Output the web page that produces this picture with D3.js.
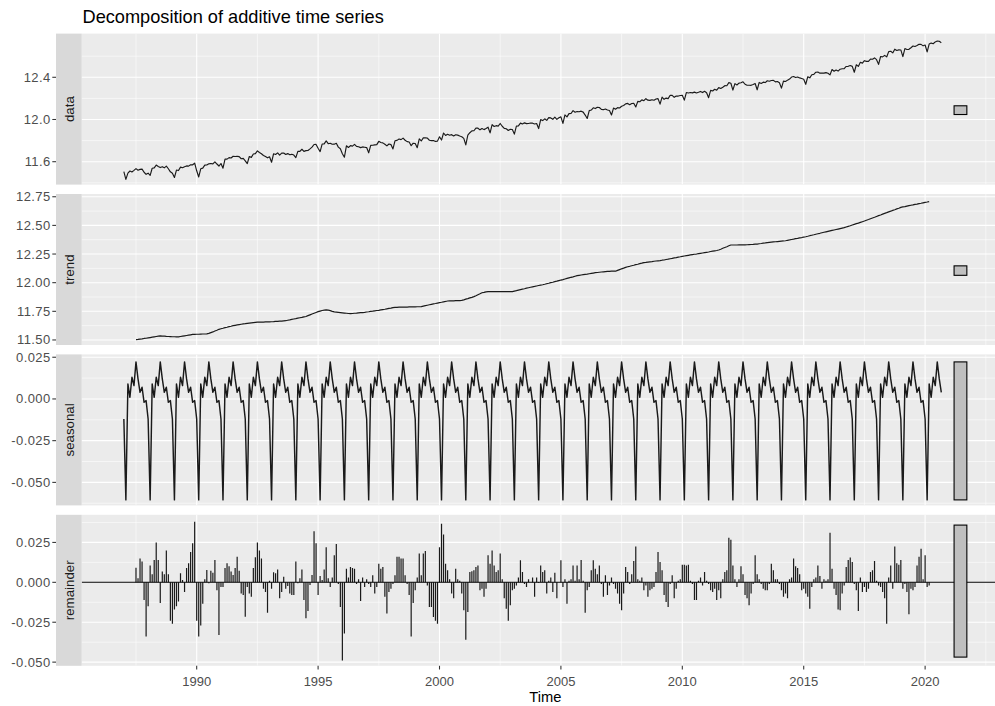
<!DOCTYPE html>
<html><head><meta charset="utf-8">
<script src="https://cdn.jsdelivr.net/npm/d3@7"></script>
<style>body{margin:0;background:#fff}svg{display:block}</style>
</head><body>
<svg id="chart" width="995" height="706"></svg>
<script>
// ---- data ----
const startYear = 1987, frequency = 12;           // monthly series, Jan 1987 .. Sep 2020
const panelNames = ["data", "trend", "seasonal", "remainder"];
// seasonal figure Jan..Dec
const seasonalFigure = [-0.012, -0.0605, 0.009, 0.001, 0.013, 0.008, 0.0222, 0.012, 0.004, 0.007, -0.002, -0.001];
// observed data where trend is undefined (first / last 6 months)
const dataHead = [11.505, 11.433, 11.492, 11.512, 11.503, 11.518];
const dataTail = [12.724, 12.718, 12.735, 12.744, 12.741, 12.728];
// trend, Jul 1987 .. Mar 2020
const trendValues = [
11.503,11.505,11.508,11.510,11.513,11.515,11.518,11.521,11.524,11.527,11.530,11.533,
11.535,11.534,11.533,11.531,11.530,11.529,11.528,11.528,11.527,11.527,11.530,11.533,
11.536,11.539,11.542,11.545,11.548,11.549,11.550,11.550,11.551,11.552,11.552,11.553,
11.558,11.564,11.570,11.578,11.585,11.593,11.598,11.602,11.607,11.611,11.616,11.620,
11.625,11.628,11.631,11.634,11.637,11.640,11.642,11.645,11.647,11.649,11.651,11.653,
11.655,11.655,11.656,11.656,11.657,11.657,11.658,11.659,11.660,11.662,11.663,11.664,
11.665,11.667,11.668,11.672,11.675,11.679,11.683,11.686,11.690,11.694,11.697,11.701,
11.705,11.712,11.719,11.726,11.733,11.740,11.747,11.752,11.757,11.760,11.762,11.760,
11.756,11.750,11.745,11.743,11.741,11.739,11.737,11.735,11.733,11.731,11.730,11.731,
11.733,11.734,11.736,11.738,11.739,11.741,11.744,11.746,11.749,11.751,11.754,11.757,
11.759,11.762,11.765,11.768,11.772,11.775,11.778,11.782,11.785,11.785,11.786,11.786,
11.786,11.787,11.787,11.788,11.788,11.789,11.789,11.790,11.790,11.791,11.795,11.799,
11.803,11.807,11.811,11.815,11.818,11.822,11.826,11.829,11.833,11.836,11.840,11.841,
11.841,11.842,11.843,11.843,11.844,11.845,11.850,11.856,11.861,11.867,11.872,11.878,
11.886,11.895,11.903,11.912,11.915,11.919,11.922,11.922,11.922,11.922,11.922,11.922,
11.922,11.922,11.922,11.922,11.922,11.922,11.922,11.926,11.930,11.935,11.939,11.943,
11.947,11.952,11.956,11.960,11.964,11.967,11.971,11.975,11.979,11.982,11.986,11.991,
11.995,12.000,12.004,12.009,12.013,12.018,12.023,12.027,12.032,12.037,12.042,12.047,
12.051,12.056,12.061,12.064,12.067,12.070,12.073,12.075,12.078,12.081,12.084,12.087,
12.089,12.091,12.093,12.095,12.097,12.099,12.099,12.100,12.100,12.100,12.107,12.114,
12.121,12.127,12.134,12.139,12.143,12.148,12.152,12.157,12.161,12.166,12.170,12.175,
12.177,12.180,12.182,12.184,12.187,12.189,12.191,12.193,12.196,12.198,12.202,12.205,
12.209,12.212,12.216,12.219,12.223,12.226,12.230,12.233,12.236,12.239,12.242,12.245,
12.248,12.250,12.253,12.256,12.259,12.262,12.265,12.268,12.272,12.275,12.278,12.281,
12.285,12.292,12.300,12.307,12.314,12.322,12.329,12.329,12.329,12.329,12.330,12.330,
12.330,12.330,12.331,12.332,12.333,12.334,12.336,12.337,12.340,12.342,12.345,12.347,
12.350,12.352,12.354,12.356,12.357,12.359,12.361,12.363,12.364,12.366,12.370,12.373,
12.377,12.380,12.384,12.387,12.391,12.394,12.398,12.401,12.405,12.410,12.414,12.418,
12.423,12.427,12.431,12.436,12.440,12.444,12.448,12.452,12.456,12.460,12.464,12.468,
12.472,12.476,12.480,12.486,12.492,12.497,12.503,12.509,12.515,12.520,12.526,12.532,
12.538,12.545,12.551,12.558,12.565,12.571,12.578,12.585,12.591,12.598,12.605,12.611,
12.618,12.624,12.631,12.637,12.644,12.650,12.657,12.661,12.664,12.668,12.672,12.676,
12.679,12.683,12.686,12.690,12.693,12.697,12.701,12.704,12.708];
// remainder, Jul 1987 .. Mar 2020
const remainderValues = [
0.0092,0.0025,0.015,0.013,-0.011,-0.034,-0.015,0.0105,0.005,0.014,0.025,0.014,
-0.013,0.0067,0.005,0.020,0.005,-0.024,-0.026,-0.017,-0.015,-0.012,0.0057,0.0015,
-0.006,0.009,0.012,0.019,0.0245,0.038,-0.024,-0.034,-0.027,-0.0135,0.002,0.0077,
-0.0006,0.0073,0.006,0.014,-0.005,-0.033,-0.003,-0.003,0.009,0.012,0.010,0.0067,
0.0046,0.009,0.016,0.0073,-0.007,-0.008,-0.0215,-0.003,-0.007,-0.009,0.009,0.0157,
0.025,0.020,0.015,-0.004,-0.006,-0.019,0.001,-0.004,0.0063,0.0057,0.008,-0.010,
-0.006,0.0035,-0.004,-0.0023,-0.007,-0.008,-0.008,0.013,-0.0006,0.0025,0.008,-0.011,
-0.0225,-0.018,-0.0017,0.0046,0.032,0.0245,-0.008,0.004,0.0015,0.008,0.022,0.0025,
-0.003,0.003,0.017,0.024,-0.001,-0.0155,-0.049,-0.032,0.0085,0.003,0.0096,0.009,
0.0085,-0.001,0.002,-0.0117,0.003,-0.003,0.002,-0.001,-0.003,0.0044,-0.007,-0.003,
0.0117,0.0085,0.0096,-0.009,-0.0196,-0.006,-0.004,-0.001,0.0044,0.016,0.016,0.015,
0.015,0.0044,-0.001,-0.008,-0.034,-0.013,-0.005,0.003,0.018,0.0044,0.018,0.0196,
-0.002,-0.0155,-0.0155,-0.0217,-0.024,-0.026,0.022,0.0367,0.030,0.0117,0.0075,0.002,
-0.007,-0.010,0.0085,0.002,0.001,-0.007,-0.0175,-0.036,-0.0186,0.0065,0.007,0.0075,
0.0096,0.0106,-0.005,-0.004,-0.009,-0.004,0.017,0.0117,0.020,0.0106,0.0065,0.0075,
0.018,0.002,-0.010,-0.0165,-0.024,-0.0144,-0.005,-0.004,-0.002,0.003,0.0138,0.0065,
-0.001,-0.003,0.002,0,0.003,-0.009,0.003,-0.0004,0.0106,0.0065,0.0075,-0.007,
0.001,0.003,-0.006,0.006,-0.010,0,0.0138,-0.003,0.002,-0.0134,0.001,0.002,
0.0106,0.001,0.0106,0.002,0.014,0.001,-0.019,-0.005,-0.003,0.0075,0.0138,0.0085,
0.005,0.0106,-0.001,-0.009,
0.0044,-0.008,-0.002,0.003,-0.001,-0.004,-0.007,-0.0134,-0.0175,-0.007,0.0096,0.0065,
-0.001,0.005,0.0134,0.0225,0.002,0.001,0.003,-0.005,-0.002,-0.009,-0.005,-0.004,
-0.003,0.0065,0.019,0.0127,0.0075,-0.008,-0.0123,-0.0155,-0.001,0.0044,-0.010,-0.004,
0.001,0.002,0.011,0.011,0.0106,0.011,0.001,-0.001,-0.011,-0.011,0.001,0.003,
-0.002,0.0065,0.001,-0.001,-0.005,-0.006,-0.004,-0.011,-0.005,-0.010,0.002,0.0065,
0.0075,0.028,0.0267,0.0106,0.002,-0.003,0.002,0.010,0.005,-0.008,-0.010,-0.0144,
-0.007,-0.001,0.017,0.005,0.002,-0.001,-0.004,-0.005,-0.005,
-0.001,0.0117,0.0075,0.002,0.002,-0.001,-0.005,-0.009,-0.007,-0.010,0.002,0.003,
0.015,0.010,0.009,0.005,-0.005,-0.004,-0.007,-0.009,-0.0165,-0.003,0.002,0.003,
0.0106,0.004,-0.004,0.002,0.001,0.002,0.031,0.0085,-0.004,-0.008,-0.017,-0.0175,
-0.007,-0.002,0.0096,0.014,0.0155,0.0127,-0.001,-0.005,-0.018,0.003,-0.006,-0.003,
-0.006,-0.004,0.0065,0.0075,0.0134,0.001,-0.002,-0.003,-0.006,-0.010,-0.026,0.003,
0.0106,-0.004,0.0225,0.012,0.011,0.014,-0.004,-0.001,-0.006,-0.020,-0.004,-0.005,
-0.003,0.0106,0.016,0.021,0.002,0.017,-0.003,-0.002];
const xTickLabels = [1990, 1995, 2000, 2005, 2010, 2015, 2020];
const dataTicks = [11.6, 12.0, 12.4];
const trendTicks = [11.50, 11.75, 12.00, 12.25, 12.50, 12.75];
const seasonalTicks = [-0.050, -0.025, 0.000, 0.025];
const remainderTicks = [-0.050, -0.025, 0.000, 0.025];
// y ranges of each facet
const dataDomain = [11.383, 12.814];
const trendDomain = [11.456, 12.774];
const seasonalDomain = [-0.0638, 0.0267];
const remainderDomain = [-0.0523, 0.0423];

// ---- build the decomposition table ----
const n = dataHead.length + trendValues.length + dataTail.length;
const half = dataHead.length;
const rows = d3.range(n).map(i => {
  const t = startYear + i / frequency;
  const s = seasonalFigure[i % frequency];
  const inMid = i >= half && i < half + trendValues.length;
  const tr = inMid ? trendValues[i - half] : null;
  const re = inMid ? remainderValues[i - half] : null;
  let obs;
  if (i < half) obs = dataHead[i];
  else if (!inMid) obs = dataTail[i - half - trendValues.length];
  else obs = tr + s + re;                       // additive decomposition identity
  return { t, data: obs, trend: tr, seasonal: s, remainder: re };
});

// ---- range bars (as in forecast::autoplot.decomposed.ts) ----
const xr = d3.extent(rows, d => d.t);
const barwidth = (xr[1] - xr[0]) / 64;
const ranges = panelNames.map(p => d3.extent(rows.filter(r => r[p] != null), r => r[p]));
const barlength = d3.min(ranges, r => r[1] - r[0]);
const bars = panelNames.map((p, k) => ({
  part: p, left: xr[1] + barwidth, right: xr[1] + 2 * barwidth,
  mid: (ranges[k][0] + ranges[k][1]) / 2
}));

// ---- layout ----
const W = 995, H = 706;
const PL = 81.7, PR = 1009;
const panelTop = 33.6, panelH = 151, panelGap = 9.4;
const stripW = 25.7;
const fontFam = "'Liberation Sans', Arial, Helvetica, sans-serif";

const xLo = xr[0], xHi = xr[1] + 2 * barwidth;
const xpad = (xHi - xLo) * 0.05;
const x = d3.scaleLinear().domain([xLo - xpad, xHi + xpad]).range([PL, PR]);

const loc = d3.formatLocale({ decimal: ".", thousands: ",", grouping: [3], currency: ["", ""], minus: "-" });
const panels = [
  { name: "data", domain: dataDomain, ticks: dataTicks, fmt: loc.format(".1f"), lw: 1.15 },
  { name: "trend", domain: trendDomain, ticks: trendTicks, fmt: loc.format(".2f"), lw: 1.2 },
  { name: "seasonal", domain: seasonalDomain, ticks: seasonalTicks, fmt: loc.format(".3f"), lw: 1.45 },
  { name: "remainder", domain: remainderDomain, ticks: remainderTicks, fmt: loc.format(".3f"), lw: 1.2 }
];

const svg = d3.select("#chart");
svg.append("rect").attr("width", W).attr("height", H).attr("fill", "#fff");
const defs = svg.append("defs");

svg.append("text").attr("x", PL + 0.8).attr("y", 23.4)
  .attr("font-family", fontFam).attr("font-size", 18.2).attr("fill", "#000")
  .text("Decomposition of additive time series");

function minorBreaks(major, domain) {
  const step = major[1] - major[0];
  const b = [major[0] - step, ...major, major[major.length - 1] + step];
  const out = [];
  for (let i = 0; i < b.length - 1; i++) {
    const m = (b[i] + b[i + 1]) / 2;
    if (m >= domain[0] && m <= domain[1]) out.push(m);
  }
  return out;
}
const xMinor = minorBreaks(xTickLabels, x.domain());

panels.forEach((p, k) => {
  const top = panelTop + k * (panelH + panelGap);
  const bot = top + panelH;
  const y = d3.scaleLinear().domain(p.domain).range([bot, top]);
  const g = svg.append("g");
  const clipId = "clip" + k;
  defs.append("clipPath").attr("id", clipId).append("rect")
    .attr("x", PL).attr("y", top).attr("width", PR - PL).attr("height", panelH);

  g.append("rect").attr("x", PL).attr("y", top).attr("width", PR - PL).attr("height", panelH).attr("fill", "#EBEBEB");
  g.append("rect").attr("x", PL - stripW).attr("y", top).attr("width", stripW).attr("height", panelH).attr("fill", "#D9D9D9");
  g.append("text").attr("transform", `translate(${PL - stripW / 2 + 0.5},${top + panelH / 2}) rotate(-90)`)
    .attr("text-anchor", "middle").attr("dominant-baseline", "central")
    .attr("font-family", fontFam).attr("font-size", 13.3).attr("fill", "#1A1A1A").text(p.name);

  const grid = g.append("g").attr("clip-path", `url(#${clipId})`);
  const yMinor = minorBreaks(p.ticks, p.domain);
  grid.selectAll(".ymin").data(yMinor).join("line")
    .attr("x1", PL).attr("x2", PR).attr("y1", d => y(d)).attr("y2", d => y(d))
    .attr("stroke", "#fff").attr("stroke-width", 0.55);
  grid.selectAll(".xmin").data(xMinor).join("line")
    .attr("x1", d => x(d)).attr("x2", d => x(d)).attr("y1", top).attr("y2", bot)
    .attr("stroke", "#fff").attr("stroke-width", 0.55);
  grid.selectAll(".ymaj").data(p.ticks).join("line")
    .attr("x1", PL).attr("x2", PR).attr("y1", d => y(d)).attr("y2", d => y(d))
    .attr("stroke", "#fff").attr("stroke-width", 1.1);
  grid.selectAll(".xmaj").data(xTickLabels).join("line")
    .attr("x1", d => x(d)).attr("x2", d => x(d)).attr("y1", top).attr("y2", bot)
    .attr("stroke", "#fff").attr("stroke-width", 1.1);

  const marks = g.append("g").attr("clip-path", `url(#${clipId})`);
  const pts = rows.filter(r => r[p.name] != null);
  if (p.name !== "remainder") {
    const line = d3.line().x(d => x(d.t)).y(d => y(d[p.name]));
    marks.append("path").datum(pts).attr("d", line)
      .attr("fill", "none").attr("stroke", "#1a1a1a").attr("stroke-width", p.lw)
      .attr("stroke-linejoin", "round");
  } else {
    marks.selectAll(".seg").data(pts).join("line")
      .attr("x1", d => x(d.t)).attr("x2", d => x(d.t))
      .attr("y1", y(0)).attr("y2", d => y(d.remainder))
      .attr("stroke", "#1a1a1a").attr("stroke-width", p.lw);
    marks.append("line").attr("x1", PL).attr("x2", PR).attr("y1", y(0)).attr("y2", y(0))
      .attr("stroke", "#000").attr("stroke-width", 1.1);
  }
  const b = bars[k];
  marks.append("rect")
    .attr("x", x(b.left)).attr("width", x(b.right) - x(b.left))
    .attr("y", y(b.mid + barlength / 2)).attr("height", y(b.mid - barlength / 2) - y(b.mid + barlength / 2))
    .attr("fill", "#BFBFBF").attr("stroke", "#000").attr("stroke-width", 1.1);

  const ya = g.append("g");
  ya.selectAll("line").data(p.ticks).join("line")
    .attr("x1", PL - stripW - 3.7).attr("x2", PL - stripW).attr("y1", d => y(d)).attr("y2", d => y(d))
    .attr("stroke", "#333").attr("stroke-width", 1.07);
  ya.selectAll("text").data(p.ticks).join("text")
    .attr("x", PL - stripW - 5.4).attr("y", d => y(d)).attr("text-anchor", "end").attr("dominant-baseline", "central")
    .attr("font-family", fontFam).attr("font-size", 13).attr("letter-spacing", 0.4)
    .attr("fill", "#4D4D4D").text(d => p.fmt(d));

  if (k === panels.length - 1) {
    const xa = g.append("g");
    xa.selectAll("line").data(xTickLabels).join("line")
      .attr("x1", d => x(d)).attr("x2", d => x(d)).attr("y1", bot).attr("y2", bot + 3.7)
      .attr("stroke", "#333").attr("stroke-width", 1.07);
    xa.selectAll("text").data(xTickLabels).join("text")
      .attr("x", d => x(d)).attr("y", bot + 20.2).attr("text-anchor", "middle")
      .attr("font-family", fontFam).attr("font-size", 13).attr("fill", "#4D4D4D").text(d => String(d));
    svg.append("text").attr("x", (PL + PR) / 2).attr("y", bot + 36.4).attr("text-anchor", "middle")
      .attr("font-family", fontFam).attr("font-size", 14.7).attr("fill", "#000").text("Time");
  }
});
</script>
</body></html>
